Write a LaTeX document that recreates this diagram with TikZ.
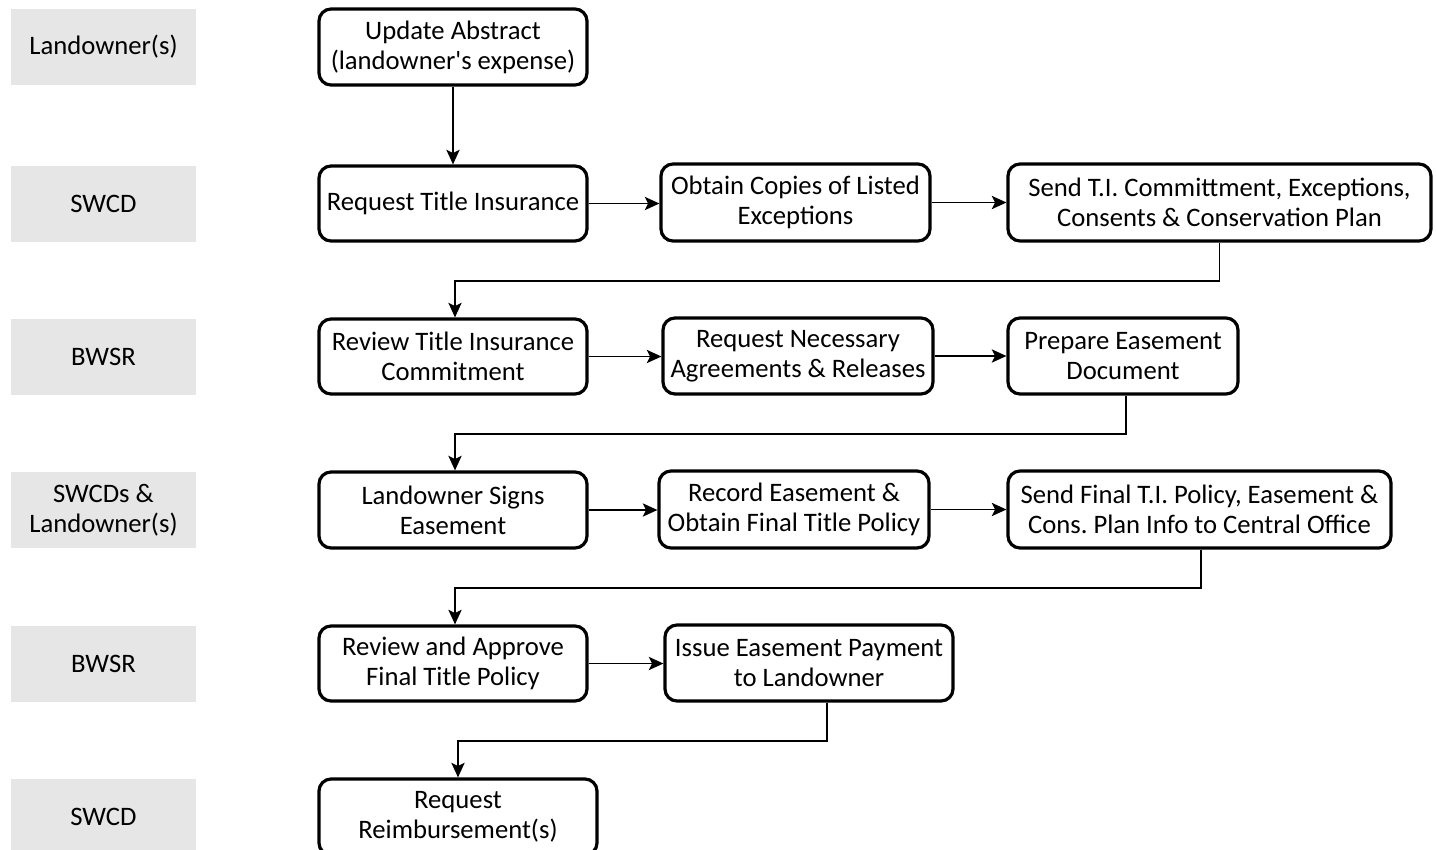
\documentclass[tikz,border=0pt]{standalone}
\usepackage{fontspec}
\setmainfont[Ligatures=TeXOff]{Carlito}
\usetikzlibrary{arrows.meta,calc}
\frenchspacing
\begin{document}
\begin{tikzpicture}[x=0.75pt,y=-0.75pt,
  lane/.style={fill=laneGray,draw=none,minimum width=138.75pt,minimum height=57pt,inner sep=0pt,align=center,font=\fontsize{20}{22.5}\selectfont},
  stepbox/.style={draw,line width=2.4pt,rounded corners=9pt,inner sep=0pt,align=center,font=\fontsize{20}{22.5}\selectfont},
  conn/.style={line width=1.1pt,-{Stealth[length=11pt,width=10pt,inset=2.5pt]}}]
\definecolor{laneGray}{HTML}{E6E6E6}
\useasboundingbox (0,0) rectangle (1436,850);
% lanes
\node[lane] (l1) at (103.5,47) {Landowner(s)};
\node[lane] (l2) at (103.5,203.5) {SWCD};
\node[lane] (l3) at (103.5,356.5) {BWSR};
\node[lane] (l4) at (103.5,510) {SWCDs \&\\Landowner(s)};
\node[lane] (l5) at (103.5,663.5) {BWSR};
\node[lane] (l6) at (103.5,817) {SWCD};
% boxes
\node[stepbox,minimum width=201pt,minimum height=57pt] (ua) at (453,47) {Update Abstract\\(landowner's expense)};
\node[stepbox,minimum width=201pt,minimum height=56.25pt] (rti) at (453,203.5) {Request Title Insurance};
\node[stepbox,minimum width=201.75pt,minimum height=57.75pt] (oc) at (795.5,202.5) {Obtain Copies of Listed\\Exceptions};
\node[stepbox,minimum width=317.25pt,minimum height=57.75pt] (st) at (1219.5,202.5) {Send T.I. Committment, Exceptions,\\Consents \& Conservation Plan};
\node[stepbox,minimum width=201pt,minimum height=56.25pt] (rv) at (453,356.5) {Review Title Insurance\\Commitment};
\node[stepbox,minimum width=202.5pt,minimum height=57pt] (rn) at (798,356) {Request Necessary\\Agreements \& Releases};
\node[stepbox,minimum width=172.5pt,minimum height=57pt] (pe) at (1123,356) {Prepare Easement\\Document};
\node[stepbox,minimum width=201pt,minimum height=57pt] (ls) at (453,510) {Landowner Signs\\Easement};
\node[stepbox,minimum width=202.5pt,minimum height=57.75pt] (re) at (794,509.5) {Record Easement \&\\Obtain Final Title Policy};
\node[stepbox,minimum width=287.25pt,minimum height=57.75pt] (sf) at (1199.5,509.5) {Send Final T.I. Policy, Easement \&\\Cons. Plan Info to Central Office};
\node[stepbox,minimum width=201pt,minimum height=56.25pt] (ra) at (453,663.5) {Review and Approve\\Final Title Policy};
\node[stepbox,minimum width=216pt,minimum height=57pt] (ie) at (809,663) {Issue Easement Payment\\to Landowner};
\node[stepbox,minimum width=208.5pt,minimum height=57pt] (rr) at (458,817) {Request\\Reimbursement(s)};
% connectors
\draw[conn] (ua.south) -- (rti.north);
\draw[conn] (rti.east) -- (rti.east -| oc.west);
\draw[conn] (oc.east) -- (oc.east -| st.west);
\coordinate (c1) at (1220,281);
\draw[conn] (st.south) -- (st.south |- c1) -| ([xshift=1.5pt]rv.north);
\draw[conn] (rv.east) -- (rv.east -| rn.west);
\draw[conn] (rn.east) -- (rn.east -| pe.west);
\coordinate (c2) at (1126,434);
\draw[conn] ([xshift=2.25pt]pe.south) -- ([xshift=2.25pt]pe.south |- c2) -| ([xshift=1.5pt]ls.north);
\draw[conn] (ls.east) -- (ls.east -| re.west);
\draw[conn] (re.east) -- (re.east -| sf.west);
\coordinate (c3) at (1201,588);
\draw[conn] ([xshift=1.1pt]sf.south) -- ([xshift=1.1pt]sf.south |- c3) -| ([xshift=1.5pt]ra.north);
\draw[conn] (ra.east) -- (ra.east -| ie.west);
\coordinate (c4) at (827,741);
\draw[conn] ([xshift=13.5pt]ie.south) -- ([xshift=13.5pt]ie.south |- c4) -| (rr.north);
\end{tikzpicture}
\end{document}
